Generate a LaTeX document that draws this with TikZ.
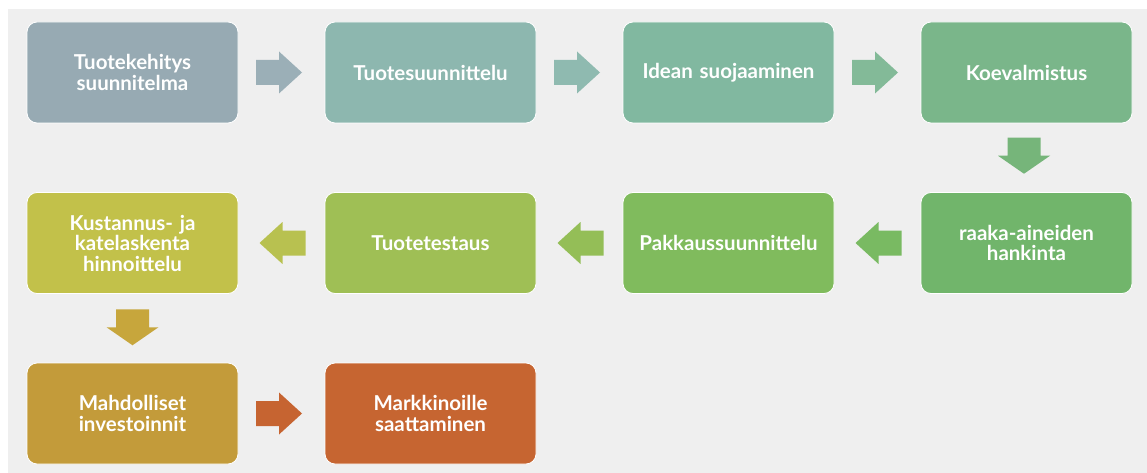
\documentclass[tikz,border=0pt]{standalone}
\usepackage{fontspec}
\setmainfont{Lato}
\usetikzlibrary{calc}
\definecolor{bg}{HTML}{EFEFEF}
\definecolor{c1}{HTML}{97AAB3}
\definecolor{c2}{HTML}{8DB7AF}
\definecolor{c3}{HTML}{81B8A0}
\definecolor{c4}{HTML}{7AB68A}
\definecolor{c5}{HTML}{71B56B}
\definecolor{c6}{HTML}{80BB5D}
\definecolor{c7}{HTML}{9FBF55}
\definecolor{c8}{HTML}{C2C14A}
\definecolor{c9}{HTML}{C39B3A}
\definecolor{c10}{HTML}{C66531}
\definecolor{a1}{HTML}{9BAFB7}
\definecolor{a2}{HTML}{8FBAB0}
\definecolor{a3}{HTML}{83BA98}
\definecolor{a4}{HTML}{76B57A}
\definecolor{a5}{HTML}{79BA62}
\definecolor{a6}{HTML}{94BE57}
\definecolor{a7}{HTML}{B8C150}
\definecolor{a8}{HTML}{C7A63C}
\definecolor{a9}{HTML}{C66431}
\begin{document}
\begin{tikzpicture}[x=1pt,y=-1pt,
  box/.style={draw=white, line width=0.8pt, rounded corners=10pt,
    minimum width=211pt, minimum height=101pt, text width=205pt,
    align=center, text=white, inner sep=0pt,
    font=\fontsize{20.5}{20.5}\selectfont\bfseries},
  pics/rarr/.style={code={\fill[#1] (-23,-12.5) -- (0,-12.5) -- (0,-21) -- (23,0) -- (0,21) -- (0,12.5) -- (-23,12.5) -- cycle;}},
  pics/larr/.style={code={\fill[#1] (23,-12.5) -- (0,-12.5) -- (0,-21) -- (-23,0) -- (0,21) -- (0,12.5) -- (23,12.5) -- cycle;}},
  pics/darr/.style={code={\fill[#1] (-16.5,-18) -- (16.5,-18) -- (16.5,0) -- (26,0) -- (0,18) -- (-26,0) -- (-16.5,0) -- cycle;}}]
\useasboundingbox (0,0) rectangle (1147,473);
\fill[white] (0,0) rectangle (1147,473);
\fill[bg] (8,9) rectangle (1147,473);
\node[box, fill=c1] (n1) at (132.5,72.5) {Tuotekehitys\\suunnitelma};
\node[box, fill=c2] (n2) at (430.5,72.5) {Tuotesuunnittelu};
\node[box, fill=c3] (n3) at (728.5,72.5) {Idean suojaaminen};
\node[box, fill=c4] (n4) at (1026.5,72.5) {Koevalmistus};
\node[box, fill=c5] (n5) at (1026.5,243) {raaka-aineiden\\hankinta};
\node[box, fill=c6] (n6) at (728.5,243) {Pakkaussuunnittelu};
\node[box, fill=c7] (n7) at (430.5,243) {Tuotetestaus};
\node[box, fill=c8] (n8) at (132.5,243) {Kustannus- ja\\katelaskenta\\hinnoittelu};
\node[box, fill=c9] (n9) at (132.5,413.5) {Mahdolliset\\investoinnit};
\node[box, fill=c10] (n10) at (430.5,413.5) {Markkinoille\\saattaminen};
\pic at ($(n1.east)!0.5!(n2.west)+(-2.5,0)$) {rarr=a1};
\pic at ($(n2.east)!0.5!(n3.west)+(-2.5,0)$) {rarr=a2};
\pic at ($(n3.east)!0.5!(n4.west)+(-2.5,0)$) {rarr=a3};
\pic at ($(n4.south)!0.5!(n5.north)+(-2.5,-2)$) {darr=a4};
\pic at ($(n5.west)!0.5!(n6.east)+(1,0)$) {larr=a5};
\pic at ($(n6.west)!0.5!(n7.east)+(1,0)$) {larr=a6};
\pic at ($(n7.west)!0.5!(n8.east)+(1,0)$) {larr=a7};
\pic at ($(n8.south)!0.5!(n9.north)+(0,-1)$) {darr=a8};
\pic at ($(n9.east)!0.5!(n10.west)+(-2.5,0)$) {rarr=a9};
\end{tikzpicture}
\end{document}
